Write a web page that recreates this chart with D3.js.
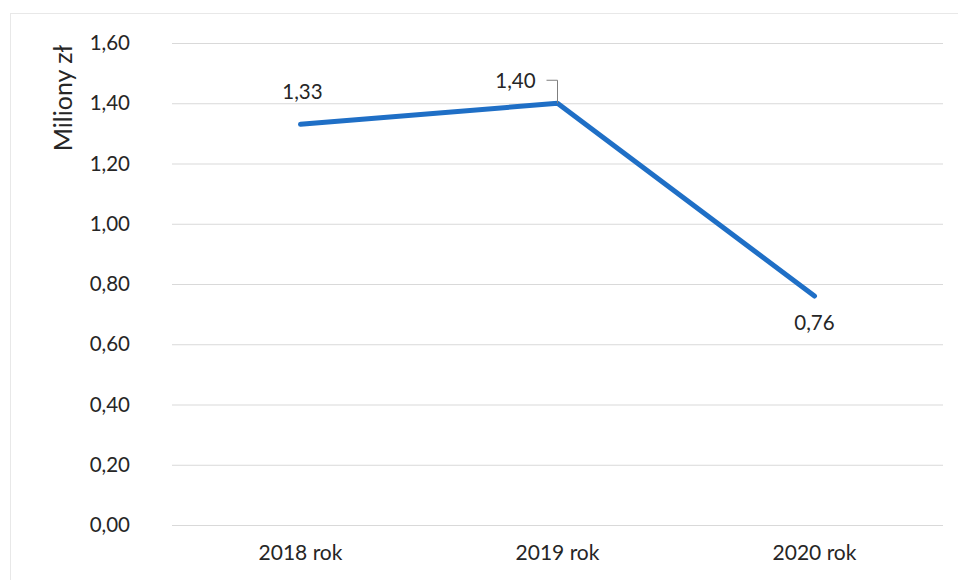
<!DOCTYPE html>
<html><head><meta charset="utf-8">
<script src="https://cdn.jsdelivr.net/npm/d3@7"></script>
<style>body{margin:0;background:#fff}svg text{font-family:Lato,"Open Sans",sans-serif;fill:#262626}</style>
</head><body><svg id="c" width="958" height="580"></svg>
<script>
const categories = ["2018 rok","2019 rok","2020 rok"];
const values = [1.33, 1.40, 0.76];
const valueLabels = ["1,33","1,40","0,76"];
const yTicks = [0,0.2,0.4,0.6,0.8,1.0,1.2,1.4,1.6];
const yTitle = "Miliony zł";

const svg = d3.select("#c");
const m = {l:172, r:943, t:43, b:525};
const x = d3.scaleBand().domain(categories).range([m.l, m.r]);
const y = d3.scaleLinear().domain([0,1.6]).range([m.b, m.t]);
const fmt = v => d3.format(".2f")(v).replace(".", ",");

svg.append("rect").attr("x",10.5).attr("y",13.5).attr("width",960).attr("height",570)
  .attr("fill","none").attr("stroke","#e8e8e8");

const ya = svg.append("g").attr("transform",`translate(${m.l},0)`)
  .call(d3.axisLeft(y).tickValues(yTicks).tickFormat(fmt).tickSize(-(m.r-m.l)).tickPadding(28));
ya.select(".domain").remove();
ya.selectAll(".tick line").attr("stroke","#d9d9d9");
ya.selectAll(".tick text").style("font-size","20.5px").attr("x",-42).attr("text-anchor","end");

const xa = svg.append("g").attr("transform",`translate(0,${m.b})`)
  .call(d3.axisBottom(x).tickSize(0).tickPadding(20));
xa.select(".domain").remove();
xa.selectAll(".tick text").style("font-size","21px");

svg.append("text").attr("transform",`translate(62,98) rotate(-90)`).attr("text-anchor","middle")
  .attr("dominant-baseline","central").style("font-size","25px").text(yTitle);

const cx = d => x(d) + x.bandwidth()/2;
svg.append("path").datum(values)
  .attr("d", d3.line().x((d,i)=>cx(categories[i])).y(d=>y(d)))
  .attr("fill","none").attr("stroke","#1f6fc6").attr("stroke-width",5)
  .attr("stroke-linecap","round").attr("stroke-linejoin","round");

// data labels
const lblPos = [
  {dx:2, dy:-33},
  {dx:-42, dy:-23},
  {dx:0, dy:26}
];
svg.selectAll(".lbl").data(values).enter().append("text")
  .attr("x",(d,i)=>cx(categories[i])+lblPos[i].dx)
  .attr("y",(d,i)=>y(d)+lblPos[i].dy)
  .attr("text-anchor","middle").attr("dominant-baseline","central")
  .style("font-size","20.5px").text((d,i)=>valueLabels[i]);

// leader line for 2019
const px = cx(categories[1]), py = y(values[1]);
svg.append("path").attr("d",`M${px-11},${py-23}H${px}V${py}`)
  .attr("fill","none").attr("stroke","#7f7f7f").attr("stroke-width",1);
</script></body></html>
